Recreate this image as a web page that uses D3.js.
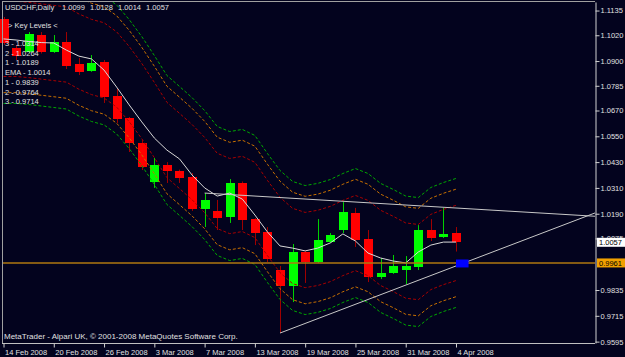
<!DOCTYPE html>
<html>
<head>
<meta charset="utf-8">
<script src="https://cdn.jsdelivr.net/npm/d3@7"></script>
<style>
  body { margin: 0; background: #03031e; }
  svg text { font-family: "Liberation Sans", Arial, sans-serif; font-size: 7.5px; }
</style>
</head>
<body>
<script>
// USDCHF daily, 14 Feb - 4 Apr 2008
const dates = ["14 Feb 2008","15 Feb 2008","18 Feb 2008","19 Feb 2008","20 Feb 2008","21 Feb 2008","22 Feb 2008","25 Feb 2008","26 Feb 2008","27 Feb 2008","28 Feb 2008","29 Feb 2008",
  "3 Mar 2008","4 Mar 2008","5 Mar 2008","6 Mar 2008","7 Mar 2008","10 Mar 2008","11 Mar 2008","12 Mar 2008","13 Mar 2008","14 Mar 2008","17 Mar 2008","18 Mar 2008","19 Mar 2008",
  "20 Mar 2008","21 Mar 2008","24 Mar 2008","25 Mar 2008","26 Mar 2008","27 Mar 2008","28 Mar 2008","31 Mar 2008","1 Apr 2008","2 Apr 2008","3 Apr 2008","4 Apr 2008"]

const open  = [1.1096,1.0961,1.0942,1.1021,1.0942,1.0989,1.0886,1.0854,1.0896,1.0737,1.0635,1.0519,1.0337,1.0417,1.0389,1.0361,1.0212,1.0203,1.0175,1.0333,1.0165,1.0105,0.9928,0.9854,1.0012,0.9965,1.0058,1.0114,1.0193,1.0072,0.9896,0.9914,0.9928,0.9942,1.0114,1.0082,1.0099]
const high  = [1.1105,1.0975,1.1035,1.1035,1.1021,1.1035,1.0914,1.0928,1.0905,1.0770,1.0640,1.0533,1.0449,1.0430,1.0395,1.0379,1.0286,1.0254,1.0351,1.0340,1.0170,1.0128,0.9947,1.0049,1.0017,1.0165,1.0100,1.0244,1.0217,1.0114,0.9984,0.9998,0.9993,1.0137,1.0165,1.0217,1.0128]
const low   = [1.0975,1.0905,1.0938,1.0935,1.0938,1.0863,1.0835,1.0850,1.0705,1.0612,1.0477,1.0393,1.0310,1.0333,1.0333,1.0203,1.0128,1.0114,1.0147,1.0114,1.0044,0.9965,0.9635,0.9779,0.9868,0.9961,1.0054,1.0100,1.0035,0.9872,0.9886,0.9910,0.9863,0.9928,1.0063,1.0077,1.0014]
const close = [1.0984,1.0924,1.1026,1.0942,1.0989,1.0877,1.0849,1.0891,1.0733,1.0630,1.0519,1.0407,1.0417,1.0389,1.0356,1.0212,1.0254,1.0170,1.0333,1.0161,1.0100,0.9979,0.9854,1.0012,0.9965,1.0068,1.0091,1.0198,1.0068,0.9896,0.9914,0.9949,0.9947,1.0114,1.0077,1.0096,1.0057]

const ema = [1.1003,1.0998,1.0991,1.0986,1.0984,1.0951,1.0923,1.0910,1.0858,1.0779,1.0696,1.0617,1.0542,1.0486,1.0445,1.0370,1.0310,1.0272,1.0286,1.0258,1.0184,1.0105,1.0040,1.0030,1.0017,1.0030,1.0054,1.0096,1.0063,1.0007,0.9984,0.9970,0.9961,1.0012,1.0044,1.0058,1.0058]

// key level bands
const upper3 = [1.1303,1.1303,1.1298,1.1291,1.1284,1.1277,1.1244,1.1219,1.1203,1.1161,1.1093,1.1014,1.0926,1.0833,1.0782,1.0730,1.0670,1.0596,1.0572,1.0582,1.0554,1.0470,1.0391,1.0340,1.0321,1.0331,1.0349,1.0377,1.0400,1.0377,1.0331,1.0303,1.0272,1.0265,1.0312,1.0335,1.0354]
const upper2 = [1.1253,1.1253,1.1248,1.1241,1.1234,1.1227,1.1194,1.1169,1.1153,1.1111,1.1043,1.0964,1.0876,1.0783,1.0732,1.0680,1.0620,1.0546,1.0522,1.0532,1.0504,1.0420,1.0341,1.0290,1.0271,1.0281,1.0299,1.0327,1.0350,1.0327,1.0281,1.0253,1.0222,1.0215,1.0262,1.0285,1.0304]
const upper1 = [1.1178,1.1178,1.1173,1.1166,1.1159,1.1152,1.1119,1.1094,1.1078,1.1036,1.0968,1.0889,1.0801,1.0708,1.0657,1.0605,1.0545,1.0471,1.0447,1.0457,1.0429,1.0345,1.0266,1.0215,1.0196,1.0206,1.0224,1.0252,1.0275,1.0252,1.0206,1.0178,1.0147,1.0140,1.0187,1.0210,1.0229]
const lower1 = [1.0828,1.0828,1.0823,1.0816,1.0809,1.0802,1.0769,1.0744,1.0728,1.0686,1.0618,1.0539,1.0451,1.0358,1.0307,1.0255,1.0195,1.0121,1.0097,1.0107,1.0079,0.9995,0.9916,0.9865,0.9846,0.9856,0.9874,0.9902,0.9925,0.9902,0.9856,0.9828,0.9797,0.9790,0.9837,0.9860,0.9879]
const lower2 = [1.0753,1.0753,1.0748,1.0741,1.0734,1.0727,1.0694,1.0669,1.0653,1.0611,1.0543,1.0464,1.0376,1.0283,1.0232,1.0180,1.0120,1.0046,1.0022,1.0032,1.0004,0.9920,0.9841,0.9790,0.9771,0.9781,0.9799,0.9827,0.9850,0.9827,0.9781,0.9753,0.9722,0.9715,0.9762,0.9785,0.9804]
const lower3 = [1.0703,1.0703,1.0698,1.0691,1.0684,1.0677,1.0644,1.0619,1.0603,1.0561,1.0493,1.0414,1.0326,1.0233,1.0182,1.0130,1.0070,0.9996,0.9972,0.9982,0.9954,0.9870,0.9791,0.9740,0.9721,0.9731,0.9749,0.9777,0.9800,0.9777,0.9731,0.9703,0.9672,0.9665,0.9712,0.9735,0.9754]

const keyLevels = ["> Key Levels <","3 - 1.0314","2 - 1.0264","1 - 1.0189","EMA - 1.0014","1 - 0.9839","2 - 0.9764","3 - 0.9714"]
// 0.9955 sits fully under the orange level box, so it is left out
const priceTicks = [1.1135,1.1020,1.0900,1.0785,1.0670,1.0550,1.0430,1.0310,1.0190,1.0075,0.9835,0.9715,0.9595]
const dateTicks = ["14 Feb 2008","20 Feb 2008","26 Feb 2008","3 Mar 2008","7 Mar 2008","13 Mar 2008","19 Mar 2008","25 Mar 2008","31 Mar 2008","4 Apr 2008"]

// trend lines (date, price) pairs, drawn as rays to the right
const trendDown = [["7 Mar 2008", 1.0286], ["3 Apr 2008", 1.0220]]
const trendUp = [["17 Mar 2008", 0.9635], ["4 Apr 2008", 0.9947]]
const hLevel = 0.9961
const blueBox = {date: "4 Apr 2008", hi: 0.9977, lo: 0.9940}
const lastClose = 1.0057

let W = 625, H = 357
let plot = {left: 2, top: 2, right: 595, bottom: 343}
let bg = "#03031e"

let svg = d3.select("body").append("svg").attr("width", W).attr("height", H)
svg.append("rect").attr("width", W).attr("height", H).attr("fill", bg)

let x = d3.scalePoint().domain(dates).range([3.5, 456])
let y = d3.scaleLinear().domain([0.95886, 1.11747]).range([plot.bottom, plot.top])

svg.append("clipPath").attr("id", "clip")
  .append("rect").attr("x", 0).attr("y", plot.top)
  .attr("width", plot.right).attr("height", plot.bottom - plot.top)

let g = svg.append("g").attr("clip-path", "url(#clip)")

// candles
let xc = d => Math.round(x(d))
let candles = dates.map((d, i) => ({d: d, o: open[i], h: high[i], l: low[i], c: close[i]}))

g.append("g").selectAll("line").data(candles).enter().append("line")
  .attr("x1", d => xc(d.d) + 0.5).attr("x2", d => xc(d.d) + 0.5)
  .attr("y1", d => y(d.h)).attr("y2", d => y(d.l))
  .attr("stroke", d => d.c >= d.o ? "#00d000" : "#a00000")
  .attr("stroke-width", 1)

g.append("g").selectAll("rect").data(candles).enter().append("rect")
  .attr("x", d => xc(d.d) - 4).attr("width", 9)
  .attr("y", d => y(Math.max(d.o, d.c)))
  .attr("height", d => Math.max(1, Math.abs(y(d.o) - y(d.c))))
  .attr("fill", d => d.c >= d.o ? "#00ff00" : "#ff0000")
  .attr("shape-rendering", "crispEdges")

// bands
let line = d3.line().x((d, i) => x(dates[i])).y(d => y(d))
let bands = [
  [upper3, "#00a800"], [upper2, "#c87000"], [upper1, "#a80000"],
  [lower1, "#a80000"], [lower2, "#c87000"], [lower3, "#00a800"]
]
bands.forEach(b => {
  g.append("path").datum(b[0]).attr("d", line)
    .attr("fill", "none").attr("stroke", b[1]).attr("stroke-width", 1)
    .attr("stroke-dasharray", "3,2")
})

// ema
g.append("path").datum(ema).attr("d", line)
  .attr("fill", "none").attr("stroke", "#d8d8d8").attr("stroke-width", 1)

// horizontal level
g.append("line").attr("x1", plot.left).attr("x2", plot.right)
  .attr("y1", y(hLevel)).attr("y2", y(hLevel))
  .attr("stroke", "#b07810").attr("stroke-width", 1.5)

// trend rays
function ray(pts) {
  let x1 = x(pts[0][0]), y1 = y(pts[0][1]), x2 = x(pts[1][0]), y2 = y(pts[1][1])
  let k = (y2 - y1) / (x2 - x1)
  return [x1, y1, plot.right, y1 + k * (plot.right - x1)]
}
;[trendDown, trendUp].forEach(t => {
  let r = ray(t)
  g.append("line").attr("x1", r[0]).attr("y1", r[1]).attr("x2", r[2]).attr("y2", r[3])
    .attr("stroke", "#c8c8c8").attr("stroke-width", 1)
})

// blue box
g.append("rect").attr("x", x(blueBox.date)).attr("width", x.step())
  .attr("y", y(blueBox.hi)).attr("height", y(blueBox.lo) - y(blueBox.hi))
  .attr("fill", "#0000ff")

// frame
svg.append("line").attr("x1", plot.left + 0.5).attr("x2", plot.left + 0.5).attr("y1", plot.top).attr("y2", plot.bottom)
  .attr("stroke", "#a0a0a0")
svg.append("line").attr("x1", plot.left).attr("x2", plot.right).attr("y1", plot.top - 0.5).attr("y2", plot.top - 0.5)
  .attr("stroke", "#a0a0a0")
svg.append("line").attr("x1", plot.left).attr("x2", plot.right).attr("y1", plot.bottom + 0.5).attr("y2", plot.bottom + 0.5)
  .attr("stroke", "#c0c0c0")

// right axis
let ya = svg.append("g").attr("transform", "translate(" + (plot.right + 0.5) + ",0)")
  .call(d3.axisRight(y).tickValues(priceTicks).tickSize(4).tickSizeOuter(0).tickPadding(1).tickFormat(d3.format(".4f")))
ya.select(".domain").attr("stroke", "#d0d0d0")
ya.selectAll(".tick line").attr("stroke", "#d0d0d0")
ya.selectAll(".tick text").attr("fill", "#e0e0e0").style("font-size", "7.5px").style("font-family", "Liberation Sans, Arial, sans-serif")

// bottom axis
let xa = svg.append("g").attr("transform", "translate(0," + (plot.bottom + 0.5) + ")")
  .call(d3.axisBottom(x).tickValues(dateTicks).tickSize(4).tickSizeOuter(0))
xa.select(".domain").remove()
xa.selectAll(".tick line").attr("stroke", "#d0d0d0")
xa.selectAll(".tick text").attr("fill", "#e0e0e0").attr("text-anchor", "start").attr("x", 1).attr("y", 6)
  .style("font-size", "7.5px").style("font-family", "Liberation Sans, Arial, sans-serif")

// price label boxes
function priceBox(p, fill) {
  svg.append("rect").attr("x", 597).attr("y", y(p) - 4.5).attr("width", 28).attr("height", 9).attr("fill", fill)
  svg.append("text").attr("x", 599).attr("y", y(p)).attr("dy", "0.35em").attr("fill", "#000").text(p.toFixed(4))
}
priceBox(lastClose, "#ffffff")
priceBox(hLevel, "#f0a000")

// texts
svg.append("text").attr("x", 5).attr("y", 10).attr("fill", "#e0e0e0").text("USDCHF,Daily")
svg.append("text").attr("x", 62).attr("y", 10).attr("fill", "#e0e0e0").style("word-spacing", "3px")
  .text([open[36], high[36], low[36], close[36]].map(v => v.toFixed(4)).join(" "))

svg.append("g").selectAll("text").data(keyLevels).enter().append("text")
  .attr("x", (d, i) => i == 0 ? 8 : 5)
  .attr("y", (d, i) => i == 0 ? 28 : 46 + (i - 1) * 9.7)
  .attr("fill", "#e0e0e0")
  .text(d => d)

svg.append("text").attr("x", 4).attr("y", 339).attr("fill", "#e0e0e0").style("font-size", "8px")
  .text("MetaTrader - Alpari UK, \u00a9 2001-2008 MetaQuotes Software Corp.")
</script>
</body>
</html>
